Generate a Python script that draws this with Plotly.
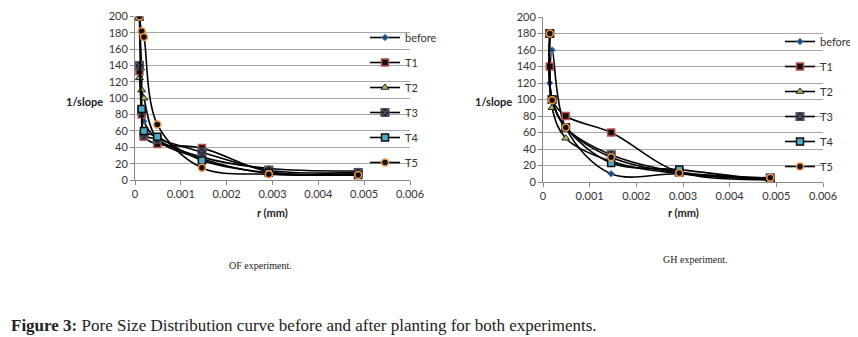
import plotly.graph_objects as go

W, H = 858, 337
OFF = 8  # page body margin offset compensation

series_names = ["before", "T1", "T2", "T3", "T4", "T5"]

# OF experiment
of_r = [0.0000973, 0.000146, 0.000195, 0.000487, 0.00146, 0.00292, 0.00487]
of_before = [200, 135, 72, 50, 28, 14, 11]
of_T1 = [133, 80, 53, 44, 39, 10, 8]
of_T2 = [125, 110, 100, 50, 26, 8, 7]
of_T3 = [140, 85, 55, 50, 34, 12, 9]
of_T4 = [200, 87, 60, 53, 24, 9, 6]
of_T5 = [200, 182, 175, 68, 15, 7, 6]

# GH experiment
gh_r = [0.000146, 0.000195, 0.000487, 0.00146, 0.00292, 0.00487]
gh_before = [120, 160, 66, 10, 10, 3]
gh_T1 = [140, 100, 80, 60, 12, 3]
gh_T2 = [180, 90, 53, 25, 10, 3]
gh_T3 = [180, 100, 66, 33, 12, 5]
gh_T4 = [180, 100, 66, 23, 15, 2]
gh_T5 = [180, 99, 66, 30, 11, 5]

y_ticks = list(range(0, 201, 20))
x_ticks = [0, 0.001, 0.002, 0.003, 0.004, 0.005, 0.006]
x_ticklabels = ["0", "0.001", "0.002", "0.003", "0.004", "0.005", "0.006"]

marker_styles = {
    "before": dict(symbol="diamond", size=5, color="#1f497d", line=dict(color="#4f81bd", width=1)),
    "T1": dict(symbol="square", size=7, color="#111111", line=dict(color="#c0504d", width=1.5)),
    "T2": dict(symbol="triangle-up", size=7, color="#9bbb59", line=dict(color="#222222", width=1)),
    "T3": dict(symbol="square-x", size=8, color="#1e1e2e", line=dict(color="#555566", width=1.2)),
    "T4": dict(symbol="square", size=7, color="#4bacc6", line=dict(color="#111111", width=1.5)),
    "T5": dict(symbol="circle", size=7, color="#111111", line=dict(color="#f79646", width=1.5)),
}


def px(x):
    return (x - OFF) / W


def py(y):
    return 1 - (y - OFF) / H


fig = go.Figure()

of_data = [of_before, of_T1, of_T2, of_T3, of_T4, of_T5]
gh_data = [gh_before, gh_T1, gh_T2, gh_T3, gh_T4, gh_T5]

for i, (name, vals) in enumerate(zip(series_names, of_data)):
    fig.add_trace(go.Scatter(
        x=of_r, y=vals, name=name, mode="lines+markers",
        line=dict(color="black", width=1.6, shape="spline", smoothing=1),
        marker=marker_styles[name], xaxis="x", yaxis="y", legend="legend",
        legendgroup=f"a{i}",
    ))
for i, (name, vals) in enumerate(zip(series_names, gh_data)):
    fig.add_trace(go.Scatter(
        x=gh_r, y=vals, name=name, mode="lines+markers",
        line=dict(color="black", width=1.6, shape="spline", smoothing=1),
        marker=marker_styles[name], xaxis="x2", yaxis="y2", legend="legend2",
        legendgroup=f"b{i}",
    ))

font_family = "Lato, Liberation Sans, sans-serif"
tickfont = dict(family=font_family, size=11, color="#333333")
axis_common = dict(
    showline=True, linecolor="#888888", linewidth=1,
    ticks="outside", ticklen=4, tickcolor="#888888",
    tickfont=tickfont, zeroline=False,
)
legend_common = dict(
    xanchor="left", yanchor="top", bgcolor="rgba(0,0,0,0)",
    font=dict(family=font_family, size=11, color="#333333"),
    itemwidth=30, tracegroupgap=6, itemclick=False, itemdoubleclick=False,
)

fig.update_layout(
    width=W, height=H,
    margin=dict(l=0, r=0, t=0, b=0, autoexpand=False),
    paper_bgcolor="white", plot_bgcolor="white",
    showlegend=True,
    xaxis=dict(domain=[px(135), px(410)], range=[0, 0.006], tickvals=x_ticks, ticktext=x_ticklabels,
               showgrid=False, anchor="y", **axis_common),
    yaxis=dict(domain=[py(180), py(16.5)], range=[0, 200], tickvals=y_ticks,
               showgrid=True, gridcolor="#a6a6a6", gridwidth=1, anchor="x", **axis_common),
    xaxis2=dict(domain=[px(543), px(823)], range=[0, 0.006], tickvals=x_ticks, ticktext=x_ticklabels,
                showgrid=False, anchor="y2", **axis_common),
    yaxis2=dict(domain=[py(182), py(17)], range=[0, 200], tickvals=y_ticks,
                showgrid=True, gridcolor="#a6a6a6", gridwidth=1, anchor="x2", **axis_common),
    legend=dict(x=px(365), y=py(23), **legend_common),
    legend2=dict(x=px(780), y=py(27), **legend_common),
)

label_font = dict(family=font_family, size=11, color="#222222")
annotations = [
    dict(text="<b>1/slope</b>", x=px(105), y=py(101), xanchor="right", yanchor="middle", font=label_font),
    dict(text="<b>1/slope</b>", x=px(514), y=py(101), xanchor="right", yanchor="middle", font=label_font),
    dict(text="<b>r (mm)</b>", x=px(272), y=py(212), xanchor="center", yanchor="middle", font=label_font),
    dict(text="<b>r (mm)</b>", x=px(683), y=py(212), xanchor="center", yanchor="middle", font=label_font),
    dict(text="OF experiment.", x=px(260), y=py(265), xanchor="center", yanchor="middle",
         font=dict(family="Liberation Serif, serif", size=10, color="#222222")),
    dict(text="GH experiment.", x=px(695), y=py(260), xanchor="center", yanchor="middle",
         font=dict(family="Liberation Serif, serif", size=10, color="#222222")),
    dict(text="<b>Figure 3:</b> Pore Size Distribution curve before and after planting for both experiments.",
         x=px(9), y=py(325), xanchor="left", yanchor="middle",
         font=dict(family="Liberation Serif, serif", size=17, color="#222222")),
]
for a in annotations:
    a.update(xref="paper", yref="paper", showarrow=False)
fig.update_layout(annotations=annotations)

fig.write_html("out.html")
